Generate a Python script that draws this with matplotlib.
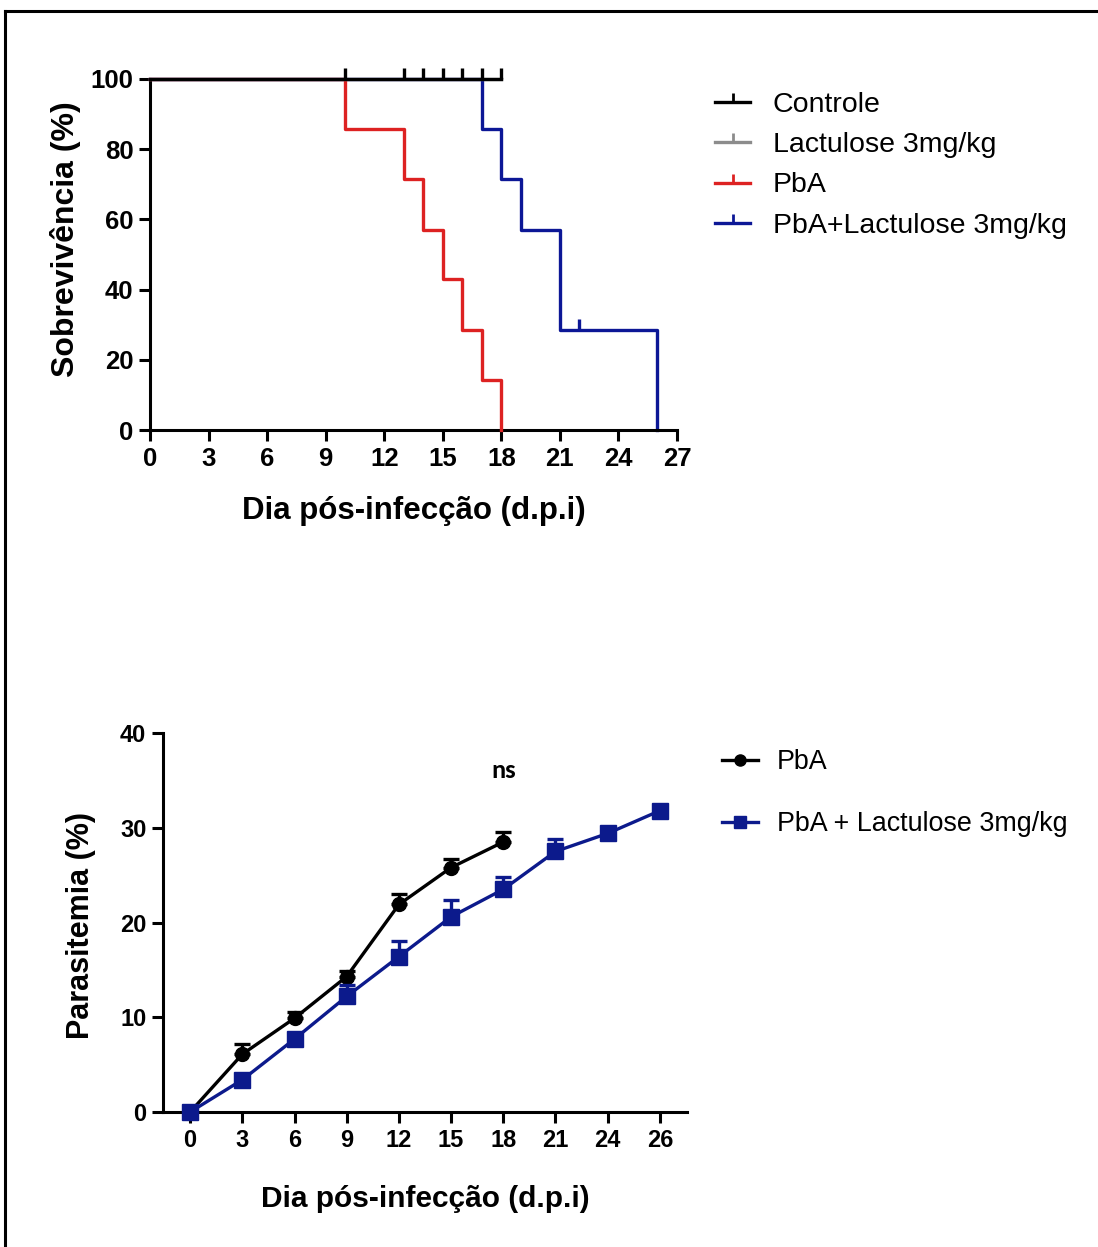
#!/usr/bin/env python3
"""
Survival curves and parasitemia for PbA +/- Lactulose.
"""

import numpy as np
import matplotlib
matplotlib.use("Agg")
import matplotlib.pyplot as plt
from matplotlib.lines import Line2D

plt.rcParams['font.family'] = ['Liberation Sans', 'DejaVu Sans']

# ---- survival data (Kaplan-Meier steps) ----
surv_labels = ['Controle', 'Lactulose 3mg/kg', 'PbA', 'PbA+Lactulose 3mg/kg']
surv_colors = ['black', '#8c8c8c', '#dd2222', '#0c1796']
surv_times = [
    [0, 18],
    [0, 18],
    [0, 10, 13, 14, 15, 16, 17, 18],
    [0, 17, 18, 19, 21, 26],
]
surv_values = [
    [100, 100],
    [100, 100],
    [100, 85.7, 71.4, 57.1, 42.9, 28.6, 14.3, 0],
    [100, 85.7, 71.4, 57.1, 28.6, 0],
]
censor_times = [[10, 13, 14, 15, 16, 17, 18], [], [], [22]]
censor_values = [[100] * 7, [], [], [28.6]]

# ---- parasitemia data ----
dpi_labels = ['0', '3', '6', '9', '12', '15', '18', '21', '24', '26']
pba_mean = [0, 6.1, 9.9, 14.3, 21.9, 25.8, 28.5]
pba_sem = [0, 1.1, 0.7, 0.6, 1.1, 0.9, 1.0]
lac_mean = [0, 3.4, 7.7, 12.2, 16.4, 20.6, 23.5, 27.5, 29.4, 31.8]
lac_sem = [0, 0.4, 0.5, 1.2, 1.6, 1.8, 1.3, 1.3, 0.4, 0.3]
para_labels = ['PbA', 'PbA + Lactulose 3mg/kg']
para_colors = ['black', '#0c1a8c']

W, H = 1098, 1247
fig = plt.figure(figsize=(W / 100, H / 100), dpi=100)

# partial frame (top + left) like the original scan
fig.add_artist(Line2D([5 / W, 5 / W], [0, 1 - 11 / H], transform=fig.transFigure,
                      color='black', lw=2.2))
fig.add_artist(Line2D([5 / W, 1], [1 - 11 / H, 1 - 11 / H], transform=fig.transFigure,
                      color='black', lw=2.2))

tick_marker = [(0, 0), (0, 1)]


def style_axes(ax, labelsize):
    for side in ['top', 'right']:
        ax.spines[side].set_visible(False)
    for side in ['left', 'bottom']:
        ax.spines[side].set_linewidth(2.2)
    ax.tick_params(direction='out', length=8, width=2.2, labelsize=labelsize, pad=4)
    for lab in ax.get_xticklabels() + ax.get_yticklabels():
        lab.set_fontweight('bold')


# ---------------- survival ----------------
ax1 = fig.add_axes([150 / W, 1 - 430 / H, 527 / W, 351 / H])
handles = []
zorders = [6, 5, 3, 2]
for i in range(len(surv_labels)):
    ax1.step(surv_times[i], surv_values[i], where='post', color=surv_colors[i],
             lw=2.4, clip_on=False, zorder=zorders[i])
    if censor_times[i]:
        ax1.plot(censor_times[i], censor_values[i], ls='none', marker=tick_marker,
                 ms=16, mew=2.4, color=surv_colors[i], clip_on=False, zorder=7)
    handles.append(Line2D([], [], color=surv_colors[i], lw=2.4, marker=tick_marker,
                          ms=13, mew=2.0, label=surv_labels[i]))

ax1.set_xlim(0, 27)
ax1.set_ylim(0, 100)
ax1.set_xticks(np.arange(0, 28, 3))
ax1.set_yticks(np.arange(0, 101, 20))
style_axes(ax1, 18.5)
ax1.set_xlabel('Dia pós-infecção (d.p.i)', fontsize=22.5, fontweight='bold', labelpad=18)
ax1.set_ylabel('Sobrevivência (%)', fontsize=23, fontweight='bold')
ax1.yaxis.set_label_coords(-0.131, 0.544)
fig.legend(handles=handles, loc='upper left', bbox_to_anchor=(715 / W, 1 - 92 / H),
           frameon=False, fontsize=20.5, handlelength=1.23, handletextpad=0.8,
           labelspacing=0.5, borderaxespad=0, borderpad=0)

# ---------------- parasitemia ----------------
ax2 = fig.add_axes([163 / W, 1 - 1112 / H, 524 / W, 379 / H])
pos = np.arange(len(dpi_labels))
means = [pba_mean, lac_mean]
sems = [pba_sem, lac_sem]
markers = ['o', 's']
sizes = [10, 11.5]
handles2 = []
for i in range(2):
    n = len(means[i])
    ax2.errorbar(pos[:n], means[i], yerr=[np.zeros(n), sems[i]], color=para_colors[i],
                 lw=2.4, marker=markers[i], ms=sizes[i], capsize=6, capthick=2.4,
                 elinewidth=2.4, clip_on=False, zorder=3 + i)
    handles2.append(Line2D([], [], color=para_colors[i], lw=2.4, marker=markers[i],
                           ms=sizes[i] * 0.8, label=para_labels[i]))

ax2.set_xlim(-0.52, 9.52)
ax2.set_ylim(0, 40)
ax2.set_xticks(pos)
ax2.set_xticklabels(dpi_labels)
ax2.set_yticks(np.arange(0, 41, 10))
style_axes(ax2, 17)
ax2.set_xlabel('Dia pós-infecção (d.p.i)', fontsize=21.5, fontweight='bold', labelpad=24)
ax2.set_ylabel('Parasitemia (%)', fontsize=22, fontweight='bold')
ax2.yaxis.set_label_coords(-0.128, 0.493)
ax2.text(6, 36, 'ns', ha='center', va='center', fontsize=19, fontweight='bold',
         family=['Carlito', 'Open Sans', 'DejaVu Sans'])
fig.legend(handles=handles2, loc='upper left', bbox_to_anchor=(722 / W, 1 - 749 / H),
           frameon=False, fontsize=19.4, handlelength=1.33, handletextpad=0.7,
           labelspacing=1.34, borderaxespad=0, borderpad=0)

fig.savefig('out.png', dpi=100)
